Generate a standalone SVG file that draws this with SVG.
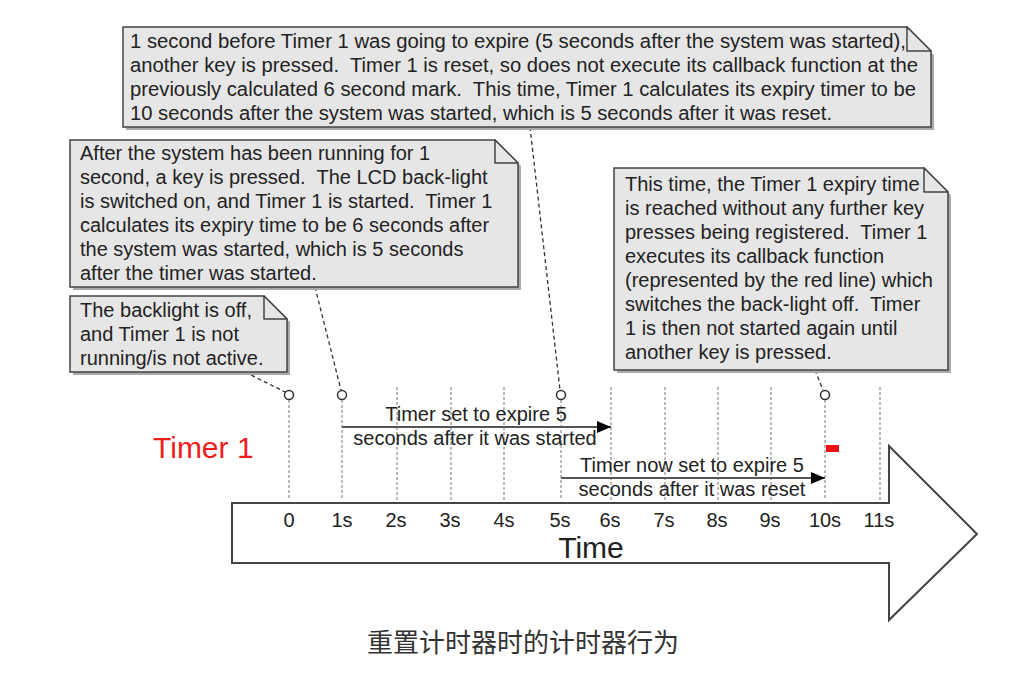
<svg xmlns="http://www.w3.org/2000/svg" width="1026" height="687" viewBox="0 0 1026 687">
<defs>
<style>
text{font-family:"Liberation Sans",Arial,sans-serif;fill:#222;white-space:pre}
.note{fill:#e6e6e6;stroke:#444;stroke-width:1.5}
.shadow{fill:#aaa}
.fold{fill:#e6e6e6;stroke:#444;stroke-width:1.5;stroke-linejoin:round}
.t{font-size:20px}
.tick{font-size:20px;text-anchor:middle}
.grid{stroke:#777;stroke-width:1;stroke-dasharray:3,2}
.lead{stroke:#333;stroke-width:1.3;stroke-dasharray:4,3;fill:none}
.key{fill:#fff;stroke:#333;stroke-width:1.5}
.span{stroke:#555;stroke-width:2;fill:none;marker-end:url(#ah)}
</style>
<marker id="ah" viewBox="0 0 14 12" refX="14" refY="6" markerWidth="14" markerHeight="12" markerUnits="userSpaceOnUse" orient="auto">
<path d="M0,0 L14,6 L0,12 Z" fill="#000"/>
</marker>
</defs>
<rect width="1026" height="687" fill="#fff"/>

<g id="timeline">
<path d="M232,503 H889 V446 L977,534 L889,620 V563 H232 Z" fill="#fff" stroke="#444" stroke-width="2"/>
<text class="tick" x="289" y="527">0</text>
<text class="tick" x="342" y="527">1s</text>
<text class="tick" x="396" y="527">2s</text>
<text class="tick" x="450" y="527">3s</text>
<text class="tick" x="504" y="527">4s</text>
<text class="tick" x="560" y="527">5s</text>
<text class="tick" x="610" y="527">6s</text>
<text class="tick" x="664" y="527">7s</text>
<text class="tick" x="717" y="527">8s</text>
<text class="tick" x="770" y="527">9s</text>
<text class="tick" x="825" y="527">10s</text>
<text class="tick" x="879" y="527">11s</text>
<text x="591" y="558" font-size="30" text-anchor="middle">Time</text>
</g>

<g id="grid">
<line class="grid" x1="289" y1="400" x2="289" y2="500"/>
<line class="grid" x1="342" y1="400" x2="342" y2="500"/>
<line class="grid" x1="397" y1="387" x2="397" y2="500"/>
<line class="grid" x1="451" y1="387" x2="451" y2="500"/>
<line class="grid" x1="504" y1="387" x2="504" y2="500"/>
<line class="grid" x1="561" y1="400" x2="561" y2="500"/>
<line class="grid" x1="611" y1="387" x2="611" y2="500"/>
<line class="grid" x1="665" y1="387" x2="665" y2="500"/>
<line class="grid" x1="718" y1="387" x2="718" y2="500"/>
<line class="grid" x1="771" y1="387" x2="771" y2="500"/>
<line class="grid" x1="825" y1="400" x2="825" y2="500"/>
<line class="grid" x1="880" y1="387" x2="880" y2="500"/>
</g>

<g id="timer-label">
<text x="153" y="458" font-size="30" style="fill:#f01c1c">Timer 1</text>
</g>

<g id="connectors">
<line class="lead" x1="530" y1="127" x2="560" y2="390"/>
<line class="lead" x1="315" y1="287" x2="341" y2="390"/>
<line class="lead" x1="245" y1="372" x2="285" y2="392"/>
<line class="lead" x1="815" y1="370" x2="823" y2="390"/>
<line class="span" x1="342" y1="427" x2="611" y2="427"/>
<line class="span" x1="561" y1="478" x2="825" y2="478"/>
</g>

<g id="key-events">
<circle class="key" cx="289" cy="395" r="4.5"/>
<circle class="key" cx="342" cy="395" r="4.5"/>
<circle class="key" cx="561" cy="395" r="4.5"/>
<circle class="key" cx="825" cy="395" r="4.5"/>
</g>

<g id="span1-label">
<text class="t" x="476" y="421" text-anchor="middle">Timer set to expire 5</text>
<text class="t" x="475" y="445" text-anchor="middle">seconds after it was started</text>
</g>
<g id="span2-label">
<text class="t" x="692" y="472" text-anchor="middle">Timer now set to expire 5</text>
<text class="t" x="692" y="496" text-anchor="middle">seconds after it was reset</text>
</g>

<g id="callback">
<rect x="826" y="445" width="13" height="7" fill="#ee1111"/>
</g>

<g id="note-reset">
<path class="shadow" d="M126,30 H909 L934,55 V130 H126 Z"/>
<path class="note" d="M123,27 H907 L931,51 V127 H123 Z"/>
<path class="fold" d="M907,27 V51 H931 Z"/>
<text class="t" x="130" y="48" textLength="776" lengthAdjust="spacingAndGlyphs">1 second before Timer 1 was going to expire (5 seconds after the system was started),</text>
<text class="t" x="130" y="72" textLength="788" lengthAdjust="spacingAndGlyphs">another key is pressed.  Timer 1 is reset, so does not execute its callback function at the</text>
<text class="t" x="130" y="96" textLength="786" lengthAdjust="spacingAndGlyphs">previously calculated 6 second mark.  This time, Timer 1 calculates its expiry timer to be</text>
<text class="t" x="130" y="120" textLength="702" lengthAdjust="spacingAndGlyphs">10 seconds after the system was started, which is 5 seconds after it was reset.</text>
</g>

<g id="note-start">
<path class="shadow" d="M73,143 H498 L521,166 V290 H73 Z"/>
<path class="note" d="M70,140 H495 L518,163 V287 H70 Z"/>
<path class="fold" d="M495,140 V163 H518 Z"/>
<text class="t" x="80" y="160">After the system has been running for 1</text>
<text class="t" x="80" y="184">second, a key is pressed.  The LCD back-light</text>
<text class="t" x="80" y="208">is switched on, and Timer 1 is started.  Timer 1</text>
<text class="t" x="80" y="232">calculates its expiry time to be 6 seconds after</text>
<text class="t" x="80" y="256">the system was started, which is 5 seconds</text>
<text class="t" x="80" y="280">after the timer was started.</text>
</g>

<g id="note-off">
<path class="shadow" d="M73,299 H267 L290,322 V375 H73 Z"/>
<path class="note" d="M70,296 H264 L287,319 V372 H70 Z"/>
<path class="fold" d="M264,296 V319 H287 Z"/>
<text class="t" x="80" y="317">The backlight is off,</text>
<text class="t" x="80" y="341">and Timer 1 is not</text>
<text class="t" x="80" y="365">running/is not active.</text>
</g>

<g id="note-expire">
<path class="shadow" d="M617,171 H927 L951,195 V373 H617 Z"/>
<path class="note" d="M614,168 H924 L948,192 V370 H614 Z"/>
<path class="fold" d="M924,168 V192 H948 Z"/>
<text class="t" x="625" y="191">This time, the Timer 1 expiry time</text>
<text class="t" x="625" y="215">is reached without any further key</text>
<text class="t" x="625" y="239">presses being registered.  Timer 1</text>
<text class="t" x="625" y="263">executes its callback function</text>
<text class="t" x="625" y="287">(represented by the red line) which</text>
<text class="t" x="625" y="311">switches the back-light off.  Timer</text>
<text class="t" x="625" y="335">1 is then not started again until</text>
<text class="t" x="625" y="359">another key is pressed.</text>
</g>

<g id="caption">
<text x="523" y="652" font-size="26" text-anchor="middle" style="font-family:'Noto Sans CJK SC','Noto Sans',sans-serif;fill:#333">重置计时器时的计时器行为</text>
</g>
</svg>
